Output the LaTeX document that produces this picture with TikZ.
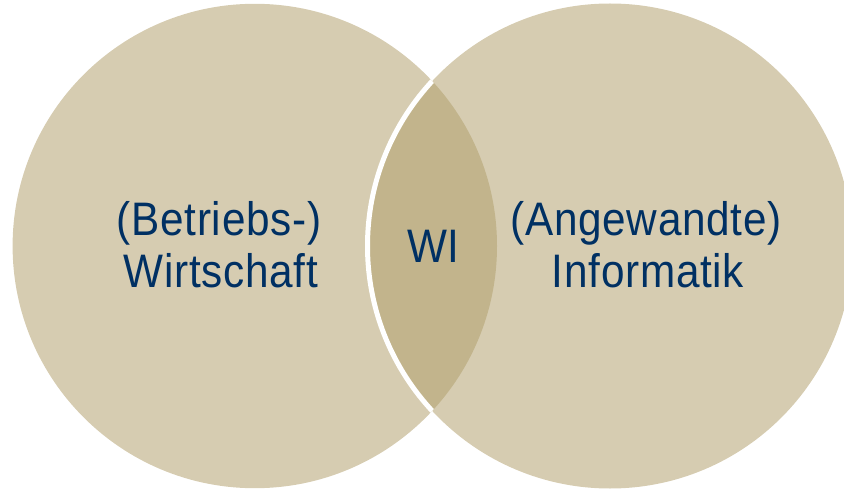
\documentclass[tikz,border=0pt]{standalone}
\usepackage{fontspec}
\setmainfont{Liberation Sans}[FakeStretch=0.9,LetterSpace=1.5]
\definecolor{tanlight}{HTML}{D6CCB1}
\definecolor{tandark}{HTML}{C2B48C}
\definecolor{navy}{HTML}{003063}
\begin{document}
\begin{tikzpicture}[x=1pt,y=-1pt,
  lbl/.style={anchor=base,inner sep=0pt,text=navy,font=\fontsize{47}{51}\selectfont}]
\useasboundingbox (0,0) rectangle (844,492);
\clip (0,0) rectangle (844,492);
% circles
\fill[tanlight] (254.8,246) circle[radius=242.2];
\fill[tanlight] (610,246) circle[radius=242.5];
\begin{scope}
  \clip (254.8,246) circle[radius=242.2];
  \fill[tandark] (610,246) circle[radius=242.5];
  \draw[white,line width=5pt] (610,246) circle[radius=242.5];
\end{scope}
% labels
\node[lbl] (b1) at (219,236) {(Betriebs-)};
\node[lbl] (b2) at (221,287) {Wirtschaft};
\node[lbl] (wi) at (433.5,262) {WI};
\node[lbl] (a1) at (646,236) {(Angewandte)};
\node[lbl] (a2) at (648,287) {Informatik};
\end{tikzpicture}
\end{document}
